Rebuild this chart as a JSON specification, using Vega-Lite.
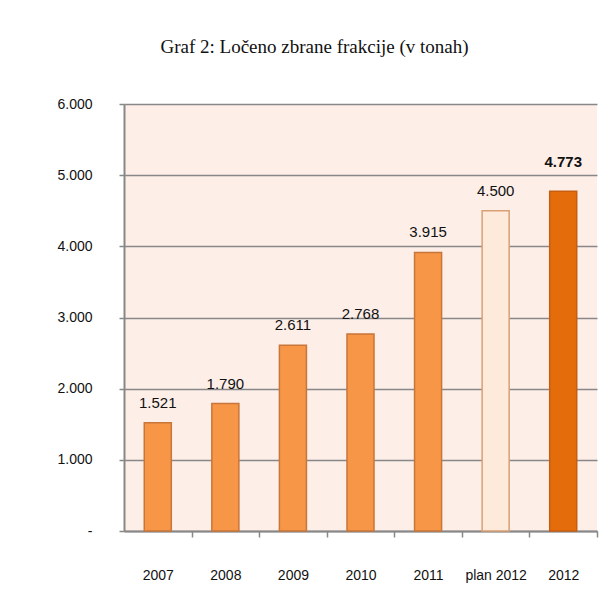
{
  "$schema": "https://vega.github.io/schema/vega-lite/v6.json",
  "autosize": "none",
  "width": 473,
  "height": 427,
  "padding": {"left": 124, "top": 104, "right": 10, "bottom": 65},
  "background": "white",
  "title": {
    "text": "Graf 2: Ločeno zbrane frakcije (v tonah)",
    "anchor": "middle",
    "frame": "group",
    "dx": -46,
    "offset": 40,
    "font": "Liberation Serif",
    "fontSize": 19,
    "fontWeight": "normal",
    "color": "#111"
  },
  "config": {
    "locale": {"number": {"decimal": ",", "thousands": ".", "grouping": [3], "currency": ["", ""]}},
    "view": {"fill": "#fdeee8", "stroke": null},
    "font": "Liberation Sans",
    "axis": {"labelFont": "Liberation Sans", "labelFontSize": 14, "labelColor": "#111", "domainColor": "#888", "tickColor": "#888", "gridColor": "#888"}
  },
  "data": {
    "values": [
      {"year": "2007", "tons": 1521},
      {"year": "2008", "tons": 1790},
      {"year": "2009", "tons": 2611},
      {"year": "2010", "tons": 2768},
      {"year": "2011", "tons": 3915},
      {"year": "plan 2012", "tons": 4500},
      {"year": "2012", "tons": 4773}
    ]
  },
  "encoding": {
    "x": {
      "field": "year", "type": "nominal", "sort": null,
      "scale": {"paddingInner": 0.6, "paddingOuter": 0.3},
      "axis": {"title": null, "labelAngle": 0, "tickOffset": 33.78, "labelOffset": -33.78, "tickSize": 6, "tickWidth": 1.5, "domainWidth": 2, "labelPadding": 31, "grid": false}
    },
    "y": {
      "field": "tons", "type": "quantitative",
      "scale": {"domain": [0, 6000], "nice": false},
      "axis": {"title": null, "values": [0, 1000, 2000, 3000, 4000, 5000, 6000], "labelExpr": "datum.value === 0 ? '-' : format(datum.value, ',')", "tickSize": 5, "tickWidth": 1.5, "domainWidth": 2, "gridWidth": 1.5, "labelPadding": 27}
    }
  },
  "layer": [
    {
      "mark": {"type": "bar", "strokeWidth": 1.5},
      "encoding": {
        "fill": {
          "condition": [
            {"test": "datum.year === 'plan 2012'", "value": "#fdeadb"},
            {"test": "datum.year === '2012'", "value": "#e46c0a"}
          ],
          "value": "#f79646"
        },
        "stroke": {
          "condition": [
            {"test": "datum.year === 'plan 2012'", "value": "#d9a074"},
            {"test": "datum.year === '2012'", "value": "#c65e10"}
          ],
          "value": "#c8763a"
        }
      }
    },
    {
      "transform": [{"filter": "datum.year !== '2012'"}],
      "mark": {"type": "text", "baseline": "bottom", "dy": -12, "fontSize": 15, "color": "#111", "font": "Liberation Sans"},
      "encoding": {"text": {"field": "tons", "type": "quantitative", "format": ","}}
    },
    {
      "transform": [{"filter": "datum.year === '2012'"}],
      "mark": {"type": "text", "baseline": "bottom", "dy": -21, "fontSize": 15, "fontWeight": "bold", "color": "#111", "font": "Liberation Sans"},
      "encoding": {"text": {"field": "tons", "type": "quantitative", "format": ","}}
    }
  ]
}
